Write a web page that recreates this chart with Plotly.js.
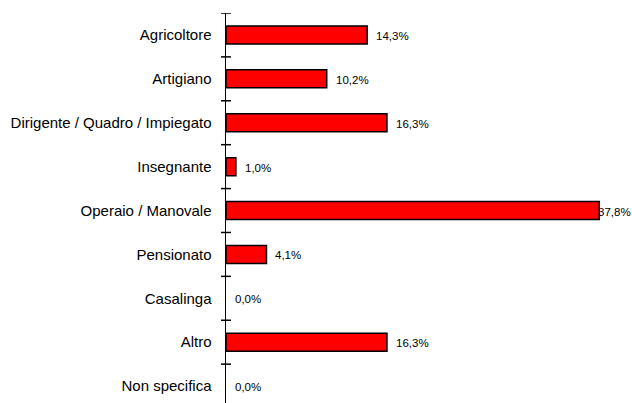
<!DOCTYPE html>
<html><head><meta charset="utf-8">
<script src="https://cdn.plot.ly/plotly-3.0.1.min.js"></script>
<style>html,body{margin:0;padding:0;background:#fff}#chart{width:632px;height:403px}</style>
</head><body><div id="chart"></div>
<script>
const categories = ["Agricoltore","Artigiano","Dirigente / Quadro / Impiegato","Insegnante","Operaio / Manovale","Pensionato","Casalinga","Altro","Non specifica"];
const values = [14.3, 10.2, 16.3, 1.0, 37.8, 4.1, 0.0, 16.3, 0.0];
const valueLabels = ["14,3%","10,2%","16,3%","1,0%","37,8%","4,1%","0,0%","16,3%","0,0%"];

const n = categories.length;
const yRange = [n - 0.5 - 0.115, -0.5];

const trace = {
  type: 'bar', orientation: 'h',
  x: values, y: categories,
  marker: {color: '#ff0000', line: {color: '#000000', width: values.map(v => v > 0 ? 1.5 : 0)}},
  hoverinfo: 'none'
};

const annotations = values.map((v, i) => ({
  x: v, y: categories[i], xref: 'x', yref: 'y',
  text: valueLabels[i], showarrow: false,
  xanchor: 'left', yanchor: 'middle',
  xshift: v > 35 ? -3 : 7, yshift: -1,
  font: {family: 'Liberation Sans, Arial, sans-serif', size: 11.5, color: '#000'}
}));

// cross tick marks at category boundaries
const shapes = [];
for (let i = 0; i < n; i++) {
  shapes.push({
    type: 'line', xref: 'paper', yref: 'y', xsizemode: 'pixel', xanchor: 0,
    x0: -5, x1: 5, y0: i - 0.5, y1: i - 0.5,
    line: {color: '#000', width: 1.5}
  });
}

const layout = {
  width: 632, height: 403,
  margin: {l: 226, r: 11, t: 13, b: 0, pad: 0},
  paper_bgcolor: '#fff', plot_bgcolor: '#fff',
  showlegend: false,
  bargap: 0.59,
  xaxis: {range: [0, 40], visible: false, fixedrange: true},
  yaxis: {
    type: 'category', range: yRange, categoryorder: 'array', categoryarray: categories,
    showline: true, linecolor: '#000', linewidth: 1.5,
    ticks: '', ticklabelstandoff: 10,
    tickfont: {family: 'Liberation Sans, Arial, sans-serif', size: 15, color: '#000'},
    showgrid: false, zeroline: false, automargin: false, fixedrange: true
  },
  shapes: shapes,
  annotations: annotations
};

Plotly.newPlot('chart', [trace], layout, {staticPlot: true, displayModeBar: false});
</script></body></html>
